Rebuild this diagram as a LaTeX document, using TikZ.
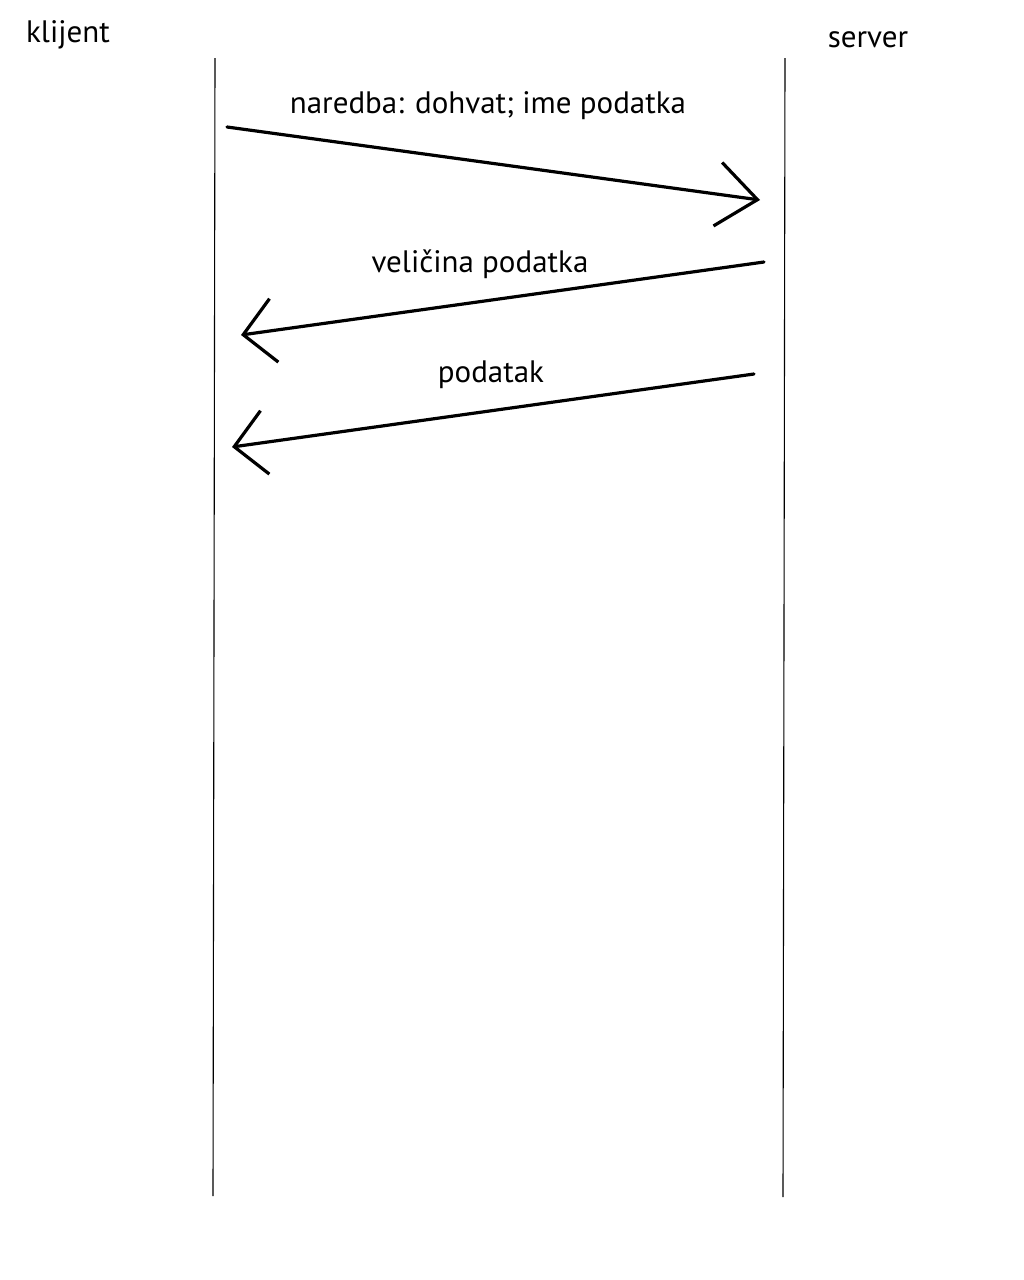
\documentclass[tikz,border=0pt]{standalone}
\usepackage{fontspec}
\setmainfont{PT Sans}
\usetikzlibrary{arrows.meta}
\begin{document}
\begin{tikzpicture}[x=1pt,y=-1pt,
  lifeline/.style={line width=1.1pt,black},
  msg/.style={line width=3.2pt,black,line cap=round,line join=miter,
    -{Straight Barb[length=#1,width=64pt,line width=3.2pt]}},
  msg/.default=40pt,
  lbl/.style={anchor=base,inner sep=0pt,font=\fontsize{31}{36}\selectfont}]
\useasboundingbox[fill=white] (0,0) rectangle (1024,1280);
% participants
\node[lbl] (klijent) at (68,42) {klijent};
\node[lbl] (server) at (868,47) {server};
% lifelines
\coordinate (kTop) at (215,58);
\coordinate (kBot) at (213,1196);
\coordinate (sTop) at (785,58);
\coordinate (sBot) at (783,1197);
\draw[lifeline] (kTop) -- (kBot);
\draw[lifeline] (sTop) -- (sBot);
% message endpoints
\coordinate (m1s) at (227,127);
\coordinate (m1e) at (760,200);
\coordinate (m2s) at (764,262);
\coordinate (m2e) at (241,335);
\coordinate (m3s) at (754,374);
\coordinate (m3e) at (232,447);
\draw[msg] (m1s) -- (m1e);
\draw[msg=31pt] (m2s) -- (m2e);
\draw[msg=31pt] (m3s) -- (m3e);
% message labels
\node[lbl] (l1) at (488,113) {naredba: dohvat; ime podatka};
\node[lbl] (l2) at (480,272) {veličina podatka};
\node[lbl] (l3) at (491,382) {podatak};
\end{tikzpicture}
\end{document}
